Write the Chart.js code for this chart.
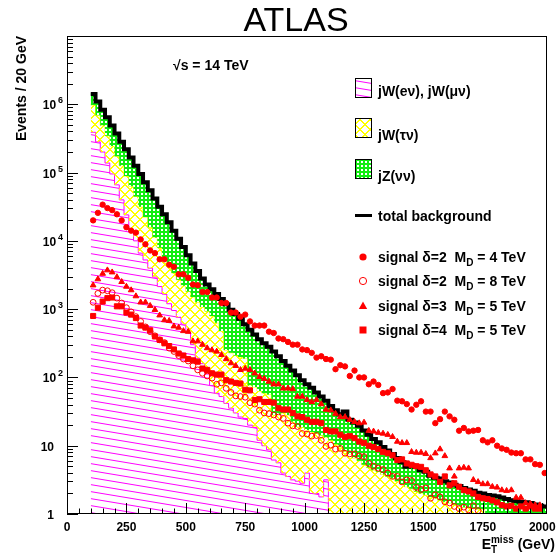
<!DOCTYPE html>
<html>
<head>
<meta charset="utf-8">
<title>ATLAS ETmiss</title>
<script src="https://cdn.jsdelivr.net/npm/chart.js@4/dist/chart.umd.min.js"></script>
<style>
  html, body { margin: 0; padding: 0; background: #ffffff; }
  #wrap { width: 558px; height: 556px; }
</style>
</head>
<body>
<div id="wrap"><canvas id="chart" width="558" height="556"></canvas></div>
<script>
// ---- binning: 20 GeV bins from 100 to 2020 GeV ----
var binWidth = 20;
var firstBin = 100;
var nBins = 96;
var binLow = [];
for (var i = 0; i < nBins; i++) binLow.push(firstBin + i * binWidth);

// axis tick labels
var xTickLabels = [0, 250, 500, 750, 1000, 1250, 1500, 1750, 2000];
var yDecades = [0, 1, 2, 3, 4, 5, 6];

// ---- backgrounds (events / 20 GeV) ----
var wLepton = [389000, 282000, 200000, 138000, 95500, 66100, 39800, 24000, 14500, 10000,
  6610, 5250, 3980, 2950, 2140, 1660, 1200, 955, 759, 603,
  457, 302, 191, 159, 112, 75.9, 58.9, 52.5, 41.7, 35.5,
  30.2, 26.3, 25.1, 20.0, 18.6, 12.0, 10.0, 8.71, 6.17, 5.62,
  3.98, 3.55, 3.16, 3.02, 2.82, 3.98, 2.00, 2.00, 1.78, 3.16,
  0, 0, 0, 0, 0, 0, 0, 0, 0, 0,
  0, 0, 0, 0, 0, 0, 0, 0, 0, 0,
  0, 0, 0, 0, 0, 0, 0, 0, 0, 0,
  0, 0, 0, 0, 0, 0, 0, 0, 0, 0,
  0, 0, 0, 0, 0, 0];

var wTau = [588000, 410000, 290000, 209000, 150000, 108000, 86100, 65100, 48600, 34700,
  25000, 17100, 11900, 8270, 5810, 4090, 3160, 2430, 1930, 1590,
  1360, 1210, 1070, 913, 821, 718, 572, 426, 210, 194,
  179, 173, 165, 55.9, 53.8, 51.1, 48.9, 47.5, 22.0, 22.6,
  26.2, 24.6, 19.2, 16.0, 15.8, 13.0, 13.9, 13.1, 12.4, 10.0,
  12.0, 10.5, 9.55, 8.32, 7.59, 6.61, 6.03, 5.25, 4.79, 4.37,
  4.17, 3.80, 3.55, 3.31, 3.02, 2.75, 2.51, 2.34, 2.14, 2.00,
  1.91, 1.78, 1.70, 1.59, 1.51, 1.45, 1.38, 1.32, 1.26, 1.23,
  1.20, 1.17, 1.17, 0.90, 0.90, 0.90, 0.90, 0.90, 0.90, 0.90,
  0.90, 0.90, 0.90, 0.90, 0.90, 0.90];

var zNuNu = [436000, 404000, 342000, 299000, 244000, 198000, 156000, 130000, 103000, 81200,
  63900, 50000, 39100, 30500, 23700, 18800, 14300, 10700, 8030, 5940,
  4350, 3160, 2370, 1750, 1360, 1160, 1030, 934, 924, 748,
  642, 525, 412, 425, 354, 300, 257, 226, 212, 176,
  144, 120, 104, 88.2, 72.6, 62.5, 54.9, 45.1, 38.4, 32.5,
  26.0, 22.6, 19.3, 23.3, 16.4, 15.3, 13.5, 11.4, 9.66, 8.22,
  7.05, 5.75, 4.96, 4.28, 3.59, 3.00, 2.39, 2.79, 2.76, 2.37,
  2.26, 1.85, 1.69, 1.73, 1.51, 1.44, 1.31, 1.25, 1.14, 1.06,
  0.99, 0.87, 0.82, 1.00, 0.96, 0.92, 0.84, 0.76, 0.69, 0.65,
  0.61, 0.58, 0.55, 0.48, 0.42, 0.39];

// ---- signals ----
var sigD2M4 = [19950, 25700, 33900, 30200, 28200, 24500, 19950, 15850, 14100, 13200,
  10500, 8910, 7240, 6610, 5370, 5370, 4470, 4170, 3240, 3240,
  2880, 2290, 2240, 1780, 1780, 1480, 1480, 1230, 1230, 891,
  891, 776, 832, 661, 575, 575, 575, 468, 447, 372,
  363, 331, 302, 302, 257, 251, 229, 195, 204, 186,
  182, 132, 151, 145, 105, 126, 100, 100, 79.4, 87.1,
  77.6, 58.9, 60.3, 67.6, 45.7, 44.7, 40.7, 33.9, 39.8, 44.7,
  31.6, 31.6, 21.4, 24.5, 31.6, 26.9, 24.0, 16.6, 18.2, 16.2,
  16.6, 17.0, 12.0, 11.2, 12.0, 10.0, 9.12, 8.71, 7.94, 7.76,
  7.76, 6.31, 6.31, 5.37, 5.25, 3.98];

var sigD2M8 = [1260, 1700, 1900, 1860, 1740, 1450, 1230, 1050, 912, 776,
  661, 550, 468, 407, 355, 324, 269, 240, 209, 186,
  174, 148, 129, 115, 105, 97.7, 79.4, 83.2, 69.2, 60.3,
  53.7, 52.5, 51.3, 42.7, 40.7, 33.1, 30.2, 29.5, 28.2, 26.3,
  25.1, 21.4, 19.5, 19.1, 15.1, 14.8, 13.8, 14.1, 12.0, 9.77,
  10.2, 8.91, 9.12, 7.76, 7.59, 7.59, 7.08, 6.92, 5.50, 5.01,
  4.68, 4.47, 3.98, 3.55, 3.55, 2.95, 3.16, 3.09, 2.45, 2.29,
  2.40, 1.70, 1.91, 1.78, 1.51, 1.45, 1.29, 1.20, 1.26, 1.15,
  1.32, 1.12, null, null, null, null, null, null, null, null,
  null, null, null, null, null, null];

var sigD3M5 = [2240, 2750, 3310, 3720, 3470, 2950, 2510, 2140, 1900, 1550,
  1260, 1260, 1120, 977, 813, 692, 676, 562, 537, 479,
  468, 339, 339, 302, 269, 251, 240, 214, 186, 162,
  148, 129, 135, 129, 115, 102, 95.5, 87.1, 79.4, 79.4,
  69.2, 69.2, 67.6, 52.5, 52.5, 46.8, 43.7, 46.8, 40.7, 33.9,
  33.1, 29.5, 26.3, 26.3, 24.0, 22.4, 21.4, 21.9, 16.6, 16.2,
  15.5, 15.1, 14.5, 13.5, 11.5, 11.0, 11.0, 8.13, 7.94, 7.94,
  7.59, 6.61, 7.76, 8.91, 7.08, 4.68, 3.55, 4.68, 4.79, 4.68,
  3.16, 2.95, 2.75, 2.75, 2.51, 2.45, 2.24, 2.19, 2.24, 1.74,
  1.74, 1.45, 1.41, 1.35, 1.35, null];

var sigD4M5 = [794, 1050, 1290, 1450, 1480, 1100, 1100, 891, 832, 741,
  575, 537, 490, 398, 355, 316, 288, 257, 224, 209,
  186, 178, 170, 135, 129, 115, 110, 110, 91.2, 87.1,
  83.2, 81.3, 66.1, 64.6, 46.8, 47.9, 43.7, 43.7, 42.7, 35.5,
  33.9, 33.9, 30.2, 26.9, 26.3, 24.0, 22.4, 22.4, 21.4, 17.0,
  16.2, 16.2, 14.5, 13.5, 13.8, 12.9, 11.5, 11.0, 10.0, 9.55,
  8.91, 8.13, 7.76, 7.24, 6.17, 6.31, 5.50, 5.25, 5.01, 4.90,
  4.37, 3.80, 3.55, 2.95, 3.55, 2.63, 2.82, 2.51, 2.24, 2.14,
  2.00, 1.78, 1.70, 1.66, 1.58, 1.48, 1.35, 1.29, 1.32, 1.20,
  1.29, 1.20, 1.29, 1.20, 1.20, null];

var bgLabels = ['jW(e\u03bd), jW(\u03bc\u03bd)', 'jW(\u03c4\u03bd)', 'jZ(\u03bd\u03bd)', 'total background'];
var sigLabels = [['2', '4'], ['2', '8'], ['3', '5'], ['4', '5']];

// ---- helpers ----
var FONT = '"Liberation Sans", Arial, Helvetica, sans-serif';
var RED = '#ff0000';
var canvas = document.getElementById('chart');
var ctxMain = canvas.getContext('2d');

function makePattern(w, h, paint) {
  var c = document.createElement('canvas');
  c.width = w; c.height = h;
  paint(c.getContext('2d'), w, h);
  return ctxMain.createPattern(c, 'repeat');
}

var magentaHatch = makePattern(42, 7, function (g, w, h) {
  g.strokeStyle = '#ff00ff';
  g.lineWidth = 1;
  g.beginPath();
  for (var k = -1; k <= 1; k++) {
    g.moveTo(0, k * h + 0.5);
    g.lineTo(w, k * h + h + 0.5);
  }
  g.stroke();
});

// yellow crosshatch, set pixel by pixel so both diagonals stay crisp
var yellowCross = makePattern(10, 10, function (g, w, h) {
  g.fillStyle = '#ffff00';
  for (var k = 0; k < w; k++) {
    g.fillRect(k, k, 1, 1);
    g.fillRect((k + 1) % w, k, 1, 1);
    g.fillRect(w - 1 - k, k, 1, 1);
    g.fillRect((2 * w - 2 - k) % w, k, 1, 1);
  }
});

var greenNet = makePattern(4, 4, function (g) {
  g.fillStyle = '#11ee11';
  g.fillRect(0, 0, 4, 4);
  g.fillStyle = '#ffffff';
  g.fillRect(1, 1, 2, 2);
});

// empty bins can't sit on a log axis, push them far below it
function logSafe(v) { return v > 0 ? v : 0.001; }

function histPoints(values) {
  var pts = values.map(function (v, i) { return { x: binLow[i], y: logSafe(v) }; });
  pts.push({ x: binLow[nBins - 1] + binWidth, y: logSafe(values[nBins - 1]) });
  return pts;
}

function markerPoints(values) {
  return values.map(function (v, i) { return { x: binLow[i] + binWidth / 2, y: v }; });
}

// stack the backgrounds
var stackLep = wLepton.slice();
var stackTau = wLepton.map(function (v, i) { return v + wTau[i]; });
var stackAll = stackTau.map(function (v, i) { return v + zNuNu[i]; });

function setFont(ctx, p) {
  ctx.font = (p.bold === false ? '' : 'bold ') + p.size + 'px ' + FONT;
}

// text runs with sub/superscripts; "stack" puts a run above/below the previous one
function rich(ctx, parts, x, y, align) {
  var total = 0, lastW = 0;
  parts.forEach(function (p) {
    setFont(ctx, p);
    p.w = ctx.measureText(p.t).width;
    if (p.stack) { total += Math.max(0, p.w - lastW); lastW = Math.max(lastW, p.w); }
    else { total += p.w; lastW = p.w; }
  });
  var cx = align === 'right' ? x - total : (align === 'center' ? x - total / 2 : x);
  var startPrev = cx, wPrev = 0;
  parts.forEach(function (p) {
    setFont(ctx, p);
    if (p.stack) {
      ctx.fillText(p.t, startPrev, y + (p.dy || 0));
      wPrev = Math.max(wPrev, p.w);
      cx = startPrev + wPrev;
    } else {
      ctx.fillText(p.t, cx, y + (p.dy || 0));
      startPrev = cx;
      wPrev = p.w;
      cx += p.w;
    }
  });
}

function drawMarker(ctx, style, x, y) {
  ctx.save();
  ctx.fillStyle = RED;
  ctx.strokeStyle = RED;
  ctx.lineWidth = 1;
  ctx.beginPath();
  if (style === 'dot') { ctx.arc(x, y, 3.6, 0, Math.PI * 2); ctx.fill(); }
  else if (style === 'ring') { ctx.arc(x, y, 3.6, 0, Math.PI * 2); ctx.stroke(); }
  else if (style === 'tri') { ctx.moveTo(x, y - 4.5); ctx.lineTo(x + 4.2, y + 3); ctx.lineTo(x - 4.2, y + 3); ctx.closePath(); ctx.fill(); }
  else { ctx.rect(x - 3.5, y - 3.5, 7, 7); ctx.fill(); }
  ctx.restore();
}

var decor = {
  id: 'decor',
  afterDraw: function (chart) {
    var ctx = chart.ctx;
    var a = chart.chartArea;
    var xs = chart.scales.x, ys = chart.scales.y;
    ctx.save();

    // frame
    ctx.strokeStyle = '#000';
    ctx.lineWidth = 1;
    ctx.strokeRect(a.left + 0.5, a.top + 0.5, a.right - a.left - 1, a.bottom - a.top - 1);

    // x ticks
    ctx.beginPath();
    for (var v = 0; v <= 2000; v += 50) {
      var px = Math.round(xs.getPixelForValue(v)) + 0.5;
      var len = (v % 250 === 0) ? 11 : 5.5;
      ctx.moveTo(px, a.bottom);
      ctx.lineTo(px, a.bottom - len);
    }
    // y ticks
    for (var d = 0; d <= 6; d++) {
      for (var m = 1; m <= 9; m++) {
        var py = Math.round(ys.getPixelForValue(m * Math.pow(10, d))) + 0.5;
        var l2 = m === 1 ? 11 : 6;
        ctx.moveTo(a.left, py);
        ctx.lineTo(a.left + l2, py);
      }
    }
    ctx.stroke();

    // tick labels
    ctx.fillStyle = '#000';
    ctx.textBaseline = 'alphabetic';
    ctx.font = 'bold 12px ' + FONT;
    ctx.textAlign = 'center';
    xTickLabels.forEach(function (t) {
      ctx.fillText(String(t), xs.getPixelForValue(t), 531);
    });
    ctx.textAlign = 'left';
    yDecades.forEach(function (dd) {
      var yy = ys.getPixelForValue(Math.pow(10, dd)) + 5;
      if (dd === 0) rich(ctx, [{ t: '1', size: 12 }], 54, yy, 'right');
      else if (dd === 1) rich(ctx, [{ t: '10', size: 12 }], 54, yy, 'right');
      else rich(ctx, [{ t: '10', size: 12 }, { t: ' ', size: 7 }, { t: String(dd), size: 9, dy: -6 }], 63, yy, 'right');
    });

    // axis titles
    rich(ctx, [
      { t: 'E', size: 14 },
      { t: 'T', size: 10, dy: 4 },
      { t: 'miss', size: 10, dy: -6, stack: true },
      { t: ' (GeV)', size: 14 }
    ], 555, 549, 'right');

    ctx.save();
    ctx.translate(26, a.top);
    ctx.rotate(-Math.PI / 2);
    ctx.textAlign = 'right';
    ctx.font = 'bold 14px ' + FONT;
    ctx.fillText('Events / 20 GeV', 0, 0);
    ctx.restore();

    // title and energy
    ctx.textAlign = 'center';
    ctx.font = '34px ' + FONT;
    ctx.fillText('ATLAS', 296, 31);
    ctx.textAlign = 'left';
    ctx.font = 'bold 14px ' + FONT;
    ctx.fillText('\u221as = 14 TeV', 173, 70);

    // legend
    var bx = 355, bw = 17, tx = 378;
    var boxes = [[magentaHatch, 78, 96], [yellowCross, 118, 140], [greenNet, 159, 181]];
    boxes.forEach(function (b, i) {
      ctx.fillStyle = '#fff';
      ctx.fillRect(bx, b[1], bw, 20);
      ctx.fillStyle = b[0];
      ctx.fillRect(bx, b[1], bw, 20);
      ctx.strokeStyle = '#000';
      ctx.lineWidth = 1;
      ctx.strokeRect(bx + 0.5, b[1] + 0.5, bw - 1, 19);
      ctx.fillStyle = '#000';
      ctx.font = 'bold 14px ' + FONT;
      ctx.fillText(bgLabels[i], tx, b[2]);
    });
    ctx.fillStyle = '#000';
    ctx.fillRect(bx, 214, bw, 3);
    ctx.font = 'bold 14px ' + FONT;
    ctx.fillText(bgLabels[3], tx, 221);

    var styles = ['dot', 'ring', 'tri', 'sq'];
    var rows = [257, 281, 306, 330];
    rows.forEach(function (ry, i) {
      drawMarker(ctx, styles[i], 363, ry);
      ctx.fillStyle = '#000';
      rich(ctx, [
        { t: 'signal \u03b4=' + sigLabels[i][0] + '  M', size: 14 },
        { t: 'D', size: 10, dy: 4 },
        { t: ' = ' + sigLabels[i][1] + ' TeV', size: 14 }
      ], tx, ry + 5, 'left');
    });

    ctx.restore();
  }
};

function bgSet(label, data, fill, pattern, border, order) {
  return {
    label: label, data: histPoints(data), stepped: true, fill: fill,
    backgroundColor: pattern, borderColor: border, borderWidth: 1,
    pointRadius: 0, order: order
  };
}

function sigSet(label, data, style, radius, filled) {
  return {
    label: label, data: markerPoints(data), showLine: false,
    pointStyle: style, pointRadius: radius, borderWidth: 1,
    borderColor: RED, backgroundColor: filled ? RED : 'rgba(0,0,0,0)',
    order: 0
  };
}

new Chart(canvas, {
  type: 'line',
  data: {
    datasets: [
      bgSet(bgLabels[0], stackLep, 'start', magentaHatch, '#ff00ff', 4),
      bgSet(bgLabels[1], stackTau, '-1', yellowCross, '#ffff00', 3),
      bgSet(bgLabels[2], stackAll, '-1', greenNet, '#00cc00', 2),
      {
        label: bgLabels[3], data: histPoints(stackAll), stepped: true, fill: false,
        borderColor: '#000', borderWidth: 4, pointRadius: 0, order: 1
      },
      sigSet('d2m4', sigD2M4, 'circle', 2.7, true),
      sigSet('d2m8', sigD2M8, 'circle', 2.9, false),
      sigSet('d3m5', sigD3M5, 'triangle', 3.3, true),
      sigSet('d4m5', sigD4M5, 'rect', 3.6, true)
    ]
  },
  options: {
    responsive: false,
    animation: false,
    devicePixelRatio: 1,
    layout: { padding: { top: 36, right: 11, left: 0, bottom: 0 } },
    plugins: { legend: { display: false }, tooltip: { enabled: false } },
    scales: {
      x: {
        type: 'linear', min: 0, max: 2020,
        ticks: { display: false }, grid: { display: false }, border: { display: false },
        afterFit: function (s) { s.height = 42; }
      },
      y: {
        type: 'logarithmic', min: 1, max: 1e7,
        ticks: { display: false }, grid: { display: false }, border: { display: false },
        afterFit: function (s) { s.width = 67; }
      }
    }
  },
  plugins: [decor]
});
</script>
</body>
</html>
